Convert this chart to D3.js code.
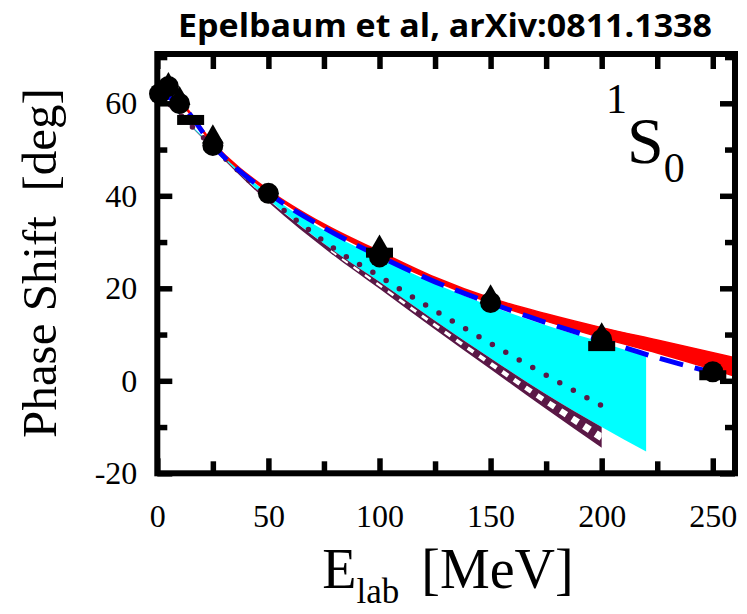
<!DOCTYPE html>
<html>
<head>
<meta charset="utf-8">
<script src="https://cdn.jsdelivr.net/npm/d3@7"></script>
<style>
  body { margin: 0; background: #fff; }
  svg { display: block; }
</style>
</head>
<body>
<svg id="chart" width="747" height="614"></svg>
<script>
// points
var pwaE = [1, 5, 10, 25, 50, 100, 150, 200, 250];
var pwaV = [62.07, 63.63, 59.96, 50.90, 40.54, 26.78, 16.94, 8.94, 1.96];
var triE = [5, 10, 25, 100, 150, 200];
var triV = [64.0, 61.0, 52.7, 28.9, 18.1, 9.9];
var sqE = [15, 100, 200, 250];
var sqV = [56.4, 27.7, 7.5, 1.2];

// red band
var redE  = [1, 10, 25, 50, 75, 100, 125, 150, 175, 200, 225, 260];
var redLo = [62.0, 60.1, 51.1, 40.8, 33.2, 27.0, 21.5, 16.8, 12.9, 9.3, 6.0, 1.0];
var redHi = [62.3, 60.5, 51.5, 41.3, 33.9, 28.0, 22.4, 17.9, 14.5, 11.5, 8.8, 5.0];
// blue dashed line
var blueE = [1, 10, 25, 50, 75, 100, 125, 150, 175, 200, 225, 250];
var blueV = [62.0, 60.0, 50.9, 40.6, 33.1, 26.9, 21.4, 16.8, 12.6, 8.8, 5.0, 1.8];
// cyan band
var cyanE  = [1, 25, 50, 78, 100, 125, 150, 175, 200, 220];
var cyanLo = [61.8, 50.4, 39.2, 28.6, 21.4, 13.0, 4.9, -2.9, -10.0, -15.3];
var cyanHi = [62.0, 50.8, 40.4, 31.8, 26.6, 21.0, 16.2, 12.0, 8.3, 5.3];
// purple band
var purpE  = [1, 25, 50, 78, 100, 125, 150, 175, 200];
var purpLo = [61.9, 50.2, 38.6, 27.6, 19.9, 11.1, 2.5, -6.1, -14.5];
var purpHi = [62.0, 50.4, 39.1, 28.6, 21.4, 13.0, 4.9, -2.9, -10.0];
// dotted line
var dotE = [1, 25, 50, 65, 82, 101, 120, 140, 160, 180, 200];
var dotV = [62.0, 50.6, 39.6, 33.8, 27.8, 22.3, 16.6, 10.9, 5.3, -0.1, -5.4];

var xMajor = [0, 50, 100, 150, 200, 250];
var xMinor = [25, 75, 125, 175, 225];
var yMajor = [-20, 0, 20, 40, 60];
var yMinor = [-10, 10, 30, 50, 70];

var purple = "#5a1846";
var serif = "Liberation Serif";

var svg = d3.select("#chart");
var x = d3.scaleLinear().domain([0, 260]).range([157.3, 735]);
var y = d3.scaleLinear().domain([-20, 70.66]).range([473.3, 54]);

function zip(es, vs) {
    return es.map(function(e, i) { return {e: e, v: vs[i]}; });
}
function band(es, lo, hi) {
    return es.map(function(e, i) { return {e: e, lo: lo[i], hi: hi[i]}; });
}

svg.append("clipPath").attr("id", "plot")
    .append("rect")
    .attr("x", x(0)).attr("y", y(70.66))
    .attr("width", x(260) - x(0)).attr("height", y(-20) - y(70.66));

var line = d3.line().x(function(d) { return x(d.e); }).y(function(d) { return y(d.v); })
    .curve(d3.curveMonotoneX);
var area = d3.area().x(function(d) { return x(d.e); })
    .y0(function(d) { return y(d.lo); }).y1(function(d) { return y(d.hi); })
    .curve(d3.curveMonotoneX);

var plot = svg.append("g").attr("clip-path", "url(#plot)");

plot.append("path").datum(band(cyanE, cyanLo, cyanHi))
    .attr("d", area).attr("fill", "#00ffff");

var purp = band(purpE, purpLo, purpHi);
plot.append("path").datum(purp).attr("d", area).attr("fill", purple);

// white dashes inside the purple band
var inner = purp.filter(function(d) { return d.e >= 78; }).map(function(d) {
    var w = d.hi - d.lo;
    return {e: d.e, lo: d.lo + 0.28 * w, hi: d.hi - 0.28 * w, v: (d.lo + d.hi) / 2};
});
svg.append("clipPath").attr("id", "inner")
    .append("path").datum(inner).attr("d", area);
plot.append("g").attr("clip-path", "url(#inner)")
    .append("path").datum(inner).attr("d", line)
    .attr("fill", "none").attr("stroke", "#fff")
    .attr("stroke-width", 30).attr("stroke-dasharray", "7,7");

plot.append("path").datum(zip(dotE, dotV)).attr("d", line)
    .attr("fill", "none").attr("stroke", purple)
    .attr("stroke-width", 5.5).attr("stroke-linecap", "round")
    .attr("stroke-dasharray", "0,15.5");

plot.append("path").datum(band(redE, redLo, redHi))
    .attr("d", area).attr("fill", "#ff0000").attr("stroke", "#ff0000").attr("stroke-width", 1.5);

plot.append("path").datum(zip(blueE, blueV)).attr("d", line)
    .attr("fill", "none").attr("stroke", "#0000ff")
    .attr("stroke-width", 5).attr("stroke-dasharray", "24,12");

// data points
var pts = svg.append("g").attr("fill", "#000");
pts.selectAll("rect.sq").data(zip(sqE, sqV)).enter().append("rect")
    .attr("class", "sq")
    .attr("x", function(d) { return x(d.e) - 13.5; })
    .attr("y", function(d) { return y(d.v) - 5; })
    .attr("width", 27).attr("height", 10);
pts.selectAll("path.tri").data(zip(triE, triV)).enter().append("path")
    .attr("class", "tri")
    .attr("transform", function(d) { return "translate(" + x(d.e) + "," + y(d.v) + ")"; })
    .attr("d", d3.symbol(d3.symbolTriangle, 210));
pts.selectAll("circle").data(zip(pwaE, pwaV)).enter().append("circle")
    .attr("cx", function(d) { return x(d.e); })
    .attr("cy", function(d) { return y(d.v); })
    .attr("r", 10.5);

// axes: inward ticks on all four sides
function styleAxis(g) {
    g.attr("font-family", serif);
    g.select(".domain").remove();
    g.selectAll(".tick line").attr("stroke", "#000").attr("stroke-width", 5.5);
    g.selectAll(".tick text").attr("font-family", serif).attr("font-size", 32).attr("fill", "#000");
}
var fmt = function(d) { return String(d); };

svg.append("g").attr("transform", "translate(0," + y(-20) + ")")
    .call(d3.axisBottom(x).tickValues(xMajor).tickSize(-15).tickPadding(31).tickFormat(fmt))
    .call(styleAxis);
svg.append("g").attr("transform", "translate(0," + y(-20) + ")")
    .call(d3.axisBottom(x).tickValues(xMinor).tickSize(-12).tickFormat(""))
    .call(styleAxis);
svg.append("g").attr("transform", "translate(0," + y(70.66) + ")")
    .call(d3.axisTop(x).tickValues(xMajor.concat(xMinor)).tickSize(-15).tickFormat(""))
    .call(styleAxis);
svg.append("g").attr("transform", "translate(" + x(0) + ",0)")
    .call(d3.axisLeft(y).tickValues(yMajor).tickSize(-15).tickPadding(20).tickFormat(fmt))
    .call(styleAxis);
svg.append("g").attr("transform", "translate(" + x(0) + ",0)")
    .call(d3.axisLeft(y).tickValues(yMinor).tickSize(-10).tickFormat(""))
    .call(styleAxis);
svg.append("g").attr("transform", "translate(" + x(260) + ",0)")
    .call(d3.axisRight(y).tickValues(yMajor).tickSize(-15).tickFormat(""))
    .call(styleAxis);
svg.append("g").attr("transform", "translate(" + x(260) + ",0)")
    .call(d3.axisRight(y).tickValues(yMinor).tickSize(-10).tickFormat(""))
    .call(styleAxis);

svg.append("rect")
    .attr("x", x(0)).attr("y", y(70.66))
    .attr("width", x(260) - x(0)).attr("height", y(-20) - y(70.66))
    .attr("fill", "none").attr("stroke", "#000").attr("stroke-width", 6);

// labels
svg.append("text")
    .attr("x", 445).attr("y", 37)
    .attr("text-anchor", "middle")
    .attr("font-family", "Open Sans").attr("font-weight", 700)
    .attr("font-size", 33)
    .attr("textLength", 534).attr("lengthAdjust", "spacingAndGlyphs")
    .text("Epelbaum et al, arXiv:0811.1338");

var xl = svg.append("text")
    .attr("x", 448).attr("y", 588)
    .attr("text-anchor", "middle")
    .attr("font-family", serif).attr("font-size", 56);
xl.append("tspan").text("E");
xl.append("tspan").attr("font-size", 35).attr("dy", 15).text("lab");
xl.append("tspan").attr("dy", -15).attr("dx", 22).text("[MeV]");

svg.append("text")
    .attr("transform", "translate(56,263) rotate(-90)")
    .attr("text-anchor", "middle")
    .attr("font-family", serif).attr("font-size", 49)
    .text("Phase Shift\u00a0\u00a0[deg]");

var lab = svg.append("text")
    .attr("x", 606).attr("y", 163)
    .attr("font-family", serif).attr("font-size", 66);
lab.append("tspan").attr("font-size", 42).attr("dy", -50).text("1");
lab.append("tspan").attr("dy", 50).text("S");
lab.append("tspan").attr("font-size", 42).attr("dy", 19).text("0");
</script>
</body>
</html>
